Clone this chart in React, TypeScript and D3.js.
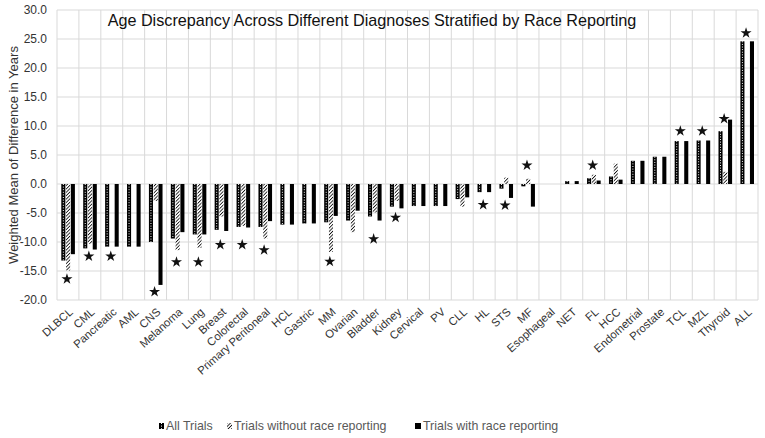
import React from 'react';
import * as d3 from 'd3';

const categories = [
  'DLBCL', 'CML', 'Pancreatic', 'AML', 'CNS', 'Melanoma', 'Lung', 'Breast', 'Colorectal',
  'Primary Peritoneal', 'HCL', 'Gastric', 'MM', 'Ovarian', 'Bladder', 'Kidney', 'Cervical',
  'PV', 'CLL', 'HL', 'STS', 'MF', 'Esophageal', 'NET', 'FL', 'HCC', 'Endometrial',
  'Prostate', 'TCL', 'MZL', 'Thyroid', 'ALL'
];

const allTrials = [
  -13.2, -11.1, -10.8, -10.8, -10.0, -9.4, -8.7, -7.9, -7.4, -7.4, -7.0, -6.8, -6.6, -6.3,
  -5.6, -3.9, -3.8, -3.8, -2.6, -1.4, -0.8, -0.4, 0, 0.5, 1.0, 1.3, 4.0, 4.7, 7.4, 7.5, 9.1, 24.6
];

const withoutRace: (number | null)[] = [
  -14.9, -10.3, null, null, -2.9, -11.4, -11.0, -5.6, -7.2, -9.4, null, null, -11.7, -8.3,
  -4.9, -2.9, null, null, -3.9, null, 1.1, 0.9, null, null, 1.6, 3.5, null, null, null, null, 2.1, null
];

const withRace = [
  -12.1, -11.3, -10.8, -10.8, -17.4, -8.3, -8.7, -8.1, -7.5, -6.4, -7.0, -6.8, -5.5, -4.6,
  -6.3, -4.2, -3.8, -3.8, -2.3, -1.4, -2.4, -3.9, 0, 0.5, 0.6, 0.75, 4.0, 4.7, 7.4, 7.5, 11.1, 24.6
];

// significance markers (star centre value)
const stars: (number | null)[] = [
  -16.2, -12.3, -12.3, null, -18.4, -13.3, -13.3, -10.3, -10.3, -11.2, null, null, -13.2, null,
  -9.3, -5.6, null, null, null, -3.4, -3.5, 3.4, null, null, 3.4, null, null, null, 9.3, 9.3, 11.4, 26.2
];

const yTicks = [-20, -15, -10, -5, 0, 5, 10, 15, 20, 25, 30];

const seriesKeys = ['all', 'without', 'with'];
const seriesNames = ['All Trials', 'Trials without race reporting', 'Trials with race reporting'];

const W = 765;
const H = 438;
const FONT = '"Liberation Sans", Arial, Helvetica, sans-serif';

export default function App() {
  const x = d3.scaleBand().domain(categories).range([57, 758]).padding(0);
  const bw = x.bandwidth();
  const x1 = d3.scaleBand().domain(seriesKeys).range([4.3, bw - 4]).paddingInner(0.15);
  const y = d3.scaleLinear().domain([-20, 30]).range([300, 10]);
  const star = d3.symbol().type(d3.symbolStar).size(38)();

  const barRect = (v: number | null) => {
    if (v === null || v === 0) return null;
    return { y: Math.min(y(v), y(0)), h: Math.abs(y(v) - y(0)) };
  };

  const legendItems = [
    { x: 159, name: seriesNames[0], key: 'all' },
    { x: 227, name: seriesNames[1], key: 'without' },
    { x: 415, name: seriesNames[2], key: 'with' }
  ];

  return (
    <svg width={W} height={H} style={{ position: 'absolute', left: 0, top: 0, background: '#fff' }}>
      <defs>
        <pattern id="hatch" patternUnits="userSpaceOnUse" width="2.4" height="2.4" patternTransform="rotate(45)">
          <rect width="2.4" height="2.4" fill="#fff" />
          <line x1="0" y1="0" x2="0" y2="2.4" stroke="#111" strokeWidth="1.7" />
        </pattern>
      </defs>

      {/* grid */}
      <g stroke="#d9d9d9" strokeWidth={1}>
        {yTicks.map(t => (
          <line key={'h' + t} x1={57} x2={758} y1={y(t)} y2={y(t)} />
        ))}
        {categories.map(c => (
          <line key={'v' + c} x1={x(c)!} x2={x(c)!} y1={10} y2={300} />
        ))}
        <line x1={758} x2={758} y1={10} y2={300} />
      </g>

      {/* y tick labels */}
      <g fontFamily={FONT} fontSize={12} fill="#333" textAnchor="end">
        {yTicks.map(t => (
          <text key={t} x={47} y={y(t)} dy="0.35em">{t.toFixed(1)}</text>
        ))}
      </g>

      <text
        transform="translate(13,155) rotate(-90)"
        textAnchor="middle"
        dy="0.35em"
        fontFamily={FONT}
        fontSize={13}
        fill="#333"
      >
        Weighted Mean of Difference in Years
      </text>

      <text x={372} y={26} textAnchor="middle" fontFamily={FONT} fontSize={16.2} fill="#111">
        Age Discrepancy Across Different Diagnoses Stratified by Race Reporting
      </text>

      {/* bars */}
      {categories.map((c, i) => {
        const x0 = x(c)!;
        const w = x1.bandwidth();
        const a = barRect(allTrials[i]);
        const b = barRect(withoutRace[i]);
        const r = barRect(withRace[i]);
        const ax = x0 + x1('all')!;
        return (
          <g key={c}>
            {a && (
              <g>
                <rect x={ax} y={a.y} width={w} height={a.h} fill="#000" />
                <line
                  x1={ax + w / 2}
                  x2={ax + w / 2}
                  y1={a.y}
                  y2={a.y + a.h}
                  stroke="#fff"
                  strokeWidth={1}
                  strokeDasharray="1,1.6"
                />
              </g>
            )}
            {b && <rect x={x0 + x1('without')!} y={b.y} width={w} height={b.h} fill="url(#hatch)" />}
            {r && <rect x={x0 + x1('with')!} y={r.y} width={w} height={r.h} fill="#000" />}
            {stars[i] !== null && (
              <path d={star!} transform={`translate(${x0 + bw / 2 - 1},${y(stars[i]!) + 1})`} fill="#111" />
            )}
          </g>
        );
      })}

      {/* x labels */}
      <g fontFamily={FONT} fontSize={11.3} fill="#333" textAnchor="end">
        {categories.map(c => (
          <text key={c} transform={`translate(${x(c)! + bw / 2 + 3},310) rotate(-42)`} dy="0.35em">
            {c}
          </text>
        ))}
      </g>

      {/* legend */}
      <g fontFamily={FONT} fontSize={12.4} fill="#595959">
        {legendItems.map(it => (
          <g key={it.key} transform={`translate(${it.x},426)`}>
            {it.key === 'all' && (
              <g>
                <rect x={0} y={-3} width={5} height={6} fill="#000" />
                <line x1={2.5} x2={2.5} y1={-3} y2={3} stroke="#fff" strokeWidth={1} strokeDasharray="1,1.6" />
              </g>
            )}
            {it.key === 'without' && <rect x={0} y={-3} width={5} height={6} fill="url(#hatch)" />}
            {it.key === 'with' && <rect x={0} y={-3} width={6} height={6} fill="#000" />}
            <text x={it.key === 'with' ? 8 : 7} y={0} dy="0.35em">{it.name}</text>
          </g>
        ))}
      </g>
    </svg>
  );
}
